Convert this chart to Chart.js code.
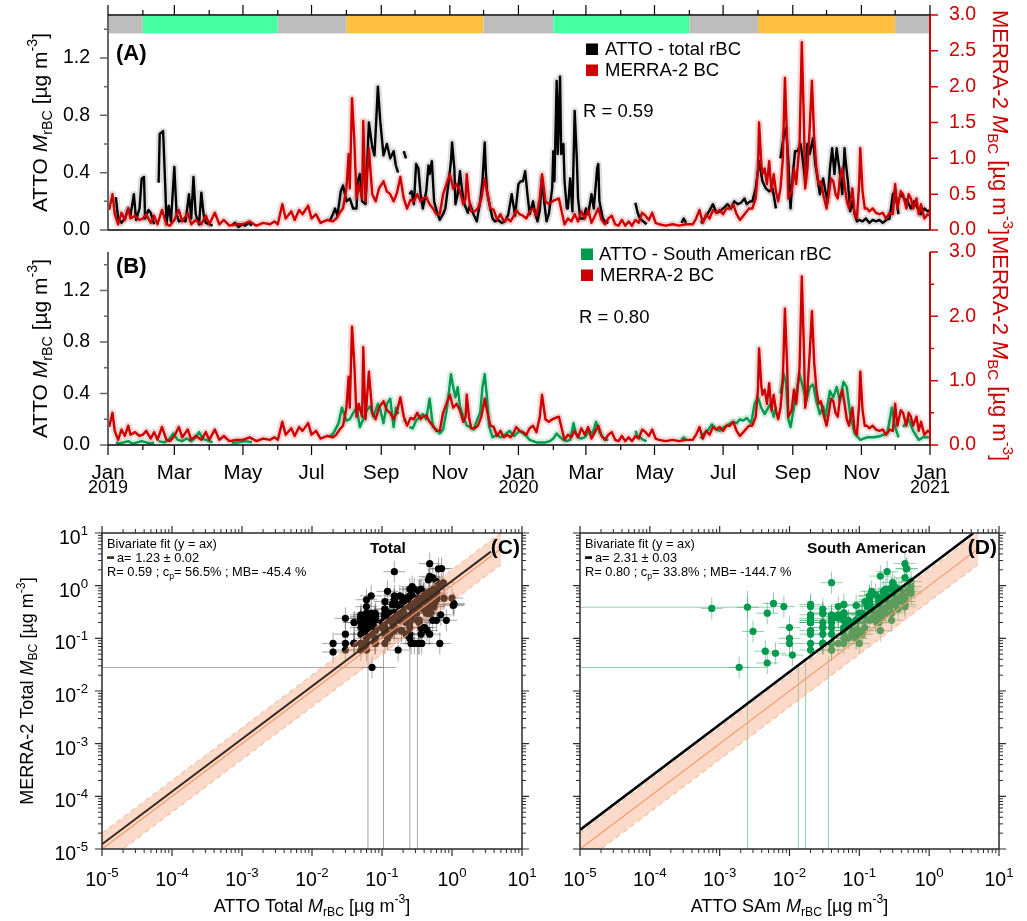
<!DOCTYPE html>
<html><head><meta charset="utf-8"><title>ATTO rBC vs MERRA-2 BC</title>
<script src="https://cdn.jsdelivr.net/npm/chart.js@4.4.1/dist/chart.umd.min.js"></script>
<style>
html,body{margin:0;padding:0;background:#fff;}
body{position:relative;width:1027px;height:921px;overflow:hidden;}
canvas{position:absolute;}
</style></head>
<body>
<canvas id="cA" width="1027" height="240" style="left:0;top:0;width:1027px;height:240px"></canvas>
<canvas id="cB" width="1027" height="272" style="left:0;top:228px;width:1027px;height:272px"></canvas>
<canvas id="cC" width="540" height="421" style="left:0;top:500px;width:540px;height:421px"></canvas>
<canvas id="cD" width="487" height="421" style="left:540px;top:500px;width:487px;height:421px"></canvas>
<script>
// ================= DATA =================
// x axis: days since 1 Jan 2019
const tickDays  = [0,31,59,90,120,151,181,212,243,273,304,334,365,396,425,456,486,517,547,578,609,639,670,700,731];
const tickMonth = ['Jan','Feb','Mar','Apr','May','Jun','Jul','Aug','Sep','Oct','Nov','Dec','Jan','Feb','Mar','Apr','May','Jun','Jul','Aug','Sep','Oct','Nov','Dec','Jan'];
const tickYear  = {0:'2019',365:'2020',731:'2021'};
const leftTicks = [0,0.4,0.8,1.2];
const leftMinor = [0.2,0.6,1.0,1.4];
const rightTicksA = [0,0.5,1,1.5,2,2.5,3];
const rightTicksB = [0,1,2,3];
const rightMinorB = [0.5,1.5,2.5];

// season bar (wet / dry / transition)
const seasonStart = [0,31,151,212,334,396,517,578,700];
const seasonEnd   = [31,151,212,334,396,517,578,700,731];
const seasonType  = ['trans','wet','trans','dry','trans','wet','trans','dry','trans'];

// MERRA-2 BC [ug m-3]  [day, value]
const merraBC = [[1,0.28],[4,0.50],[6,0.22],[9,0.08],[12,0.24],[15,0.14],[18,0.30],[20,0.16],[24,0.20],[28,0.14],[31,0.16],[34,0.22],[38,0.10],[41,0.20],[44,0.08],[48,0.28],[52,0.08],[55,0.06],[59,0.14],[63,0.28],[66,0.12],[71,0.24],[74,0.08],[78,0.14],[83,0.08],[87,0.20],[90,0.08],[95,0.24],[99,0.08],[103,0.14],[108,0.06],[114,0.08],[120,0.08],[126,0.12],[132,0.06],[138,0.10],[144,0.08],[148,0.12],[151,0.08],[155,0.36],[158,0.16],[163,0.26],[166,0.14],[170,0.28],[173,0.22],[178,0.34],[181,0.16],[185,0.22],[189,0.10],[195,0.14],[200,0.12],[203,0.16],[206,0.24],[209,0.30],[212,0.58],[214,1.06],[215,0.58],[217,1.84],[219,1.28],[221,0.44],[223,0.64],[226,0.44],[227,1.52],[229,0.40],[232,1.14],[235,0.50],[238,0.40],[241,0.58],[245,0.68],[248,0.54],[251,0.50],[254,0.40],[257,0.52],[260,0.74],[263,0.44],[266,0.30],[269,0.42],[272,0.40],[275,0.50],[278,0.40],[280,0.44],[283,0.46],[286,0.36],[289,0.30],[292,0.22],[295,0.22],[298,0.50],[301,0.64],[304,0.78],[307,0.58],[310,0.64],[313,0.54],[316,0.36],[318,0.44],[319,0.78],[321,0.44],[323,0.26],[326,0.26],[329,0.30],[332,0.44],[335,0.72],[337,0.54],[340,0.30],[343,0.28],[346,0.14],[349,0.22],[352,0.12],[355,0.16],[358,0.12],[361,0.20],[363,0.28],[366,0.22],[369,0.20],[372,0.16],[375,0.26],[378,0.30],[381,0.20],[384,0.44],[386,0.78],[389,0.40],[392,0.36],[395,0.40],[398,0.42],[401,0.44],[404,0.22],[406,0.08],[409,0.16],[412,0.12],[415,0.22],[418,0.12],[421,0.26],[424,0.16],[427,0.28],[430,0.10],[433,0.20],[436,0.30],[439,0.14],[442,0.08],[445,0.16],[448,0.20],[451,0.08],[454,0.06],[457,0.14],[460,0.06],[463,0.12],[466,0.06],[469,0.14],[472,0.10],[475,0.24],[478,0.20],[481,0.14],[484,0.24],[487,0.10],[490,0.08],[496,0.06],[502,0.08],[508,0.06],[514,0.08],[520,0.08],[523,0.16],[526,0.28],[529,0.10],[532,0.22],[535,0.16],[538,0.28],[541,0.24],[544,0.28],[547,0.22],[550,0.30],[553,0.30],[556,0.36],[559,0.22],[562,0.14],[565,0.20],[568,0.26],[570,0.30],[573,0.30],[576,0.44],[578,0.86],[579,1.50],[581,0.92],[582,0.78],[584,0.86],[586,0.64],[588,0.96],[590,0.54],[592,0.78],[594,0.54],[596,0.40],[598,0.58],[600,0.96],[602,2.12],[604,1.20],[605,0.44],[608,0.54],[610,0.86],[612,0.64],[615,1.20],[617,2.62],[619,1.42],[620,0.58],[622,0.86],[624,1.42],[626,2.08],[628,1.28],[630,0.86],[632,0.64],[634,0.68],[636,0.50],[639,0.30],[641,0.50],[643,0.72],[645,0.68],[647,0.50],[649,0.44],[651,0.74],[653,0.86],[655,0.64],[657,0.40],[659,0.30],[662,0.58],[664,0.22],[666,0.16],[668,0.64],[669,1.14],[671,0.54],[673,0.30],[675,0.30],[677,0.26],[680,0.30],[683,0.24],[686,0.22],[689,0.24],[692,0.16],[695,0.24],[698,0.22],[700,0.64],[702,0.30],[705,0.54],[707,0.50],[710,0.30],[712,0.50],[714,0.44],[716,0.30],[719,0.44],[721,0.22],[723,0.36],[726,0.16],[729,0.22],[731,0.20]];

// ATTO total rBC [ug m-3]  [day, value]  (null = no data)
const attoTotal = [[7,0.23],[9,0.08],[12,0.05],[15,0.08],[18,0.15],[20,0.10],[23,0.25],[25,0.07],[28,0.15],[30,0.36],[32,0.37],[33,0.08],[36,0.14],[38,0.12],[41,0.04],[43,null],[45,0.33],[46,0.67],[49,0.69],[51,0.29],[52,0.04],[54,0.17],[56,0.06],[59,0.44],[61,0.11],[63,0.06],[66,0.07],[69,0.06],[72,0.25],[74,0.08],[76,0.37],[78,0.11],[81,0.04],[83,0.26],[85,0.11],[87,0.05],[90,0.04],[93,0.03],[95,null],[110,0.03],[113,0.05],[116,0.02],[119,0.04],[122,0.03],[125,0.05],[128,0.03],[130,null],[197,0.06],[200,0.11],[202,0.15],[204,0.10],[207,0.27],[209,0.31],[212,0.20],[215,0.22],[218,0.15],[221,0.15],[222,0.34],[224,0.39],[226,0.20],[229,0.18],[232,0.75],[235,0.58],[237,0.52],[240,1.00],[242,0.77],[245,0.52],[248,0.60],[251,0.50],[254,0.55],[256,0.45],[258,0.40],[260,null],[263,0.55],[265,0.50],[266,null],[268,0.25],[270,0.27],[272,0.18],[274,0.46],[276,0.43],[278,0.25],[280,0.15],[283,0.27],[285,0.45],[286,0.39],[288,0.48],[290,0.20],[292,0.14],[295,0.07],[298,0.11],[300,0.15],[303,0.34],[305,0.48],[306,0.61],[308,0.43],[309,0.18],[311,0.25],[313,0.41],[315,0.27],[317,0.18],[320,0.12],[322,0.18],[325,0.11],[328,0.06],[331,0.20],[333,0.34],[335,0.61],[336,0.41],[337,0.27],[340,0.15],[342,0.08],[344,0.06],[347,0.07],[350,0.05],[353,0.06],[356,0.11],[359,0.25],[362,0.10],[365,0.32],[367,0.34],[369,0.34],[371,0.41],[373,0.25],[375,0.11],[378,0.20],[380,0.11],[382,0.06],[384,0.14],[386,0.36],[388,0.19],[390,0.06],[392,0.11],[395,0.29],[396,0.55],[397,0.34],[399,1.04],[400,0.53],[402,1.07],[403,0.53],[405,0.60],[406,0.34],[408,0.15],[409,0.15],[411,0.36],[413,0.13],[415,0.83],[417,0.48],[418,0.22],[420,0.08],[423,0.08],[425,0.15],[427,0.11],[430,0.25],[432,0.15],[435,0.43],[436,0.46],[437,0.20],[440,0.08],[442,0.06],[445,0.05],[447,null],[469,0.19],[471,0.12],[473,0.08],[476,0.06],[479,0.04],[481,null],[510,0.05],[512,0.08],[514,0.05],[516,null],[527,0.05],[529,0.06],[533,0.11],[538,0.18],[541,0.12],[544,0.13],[547,0.15],[551,0.18],[554,0.15],[557,0.20],[560,0.18],[563,0.19],[566,0.22],[568,0.18],[571,0.20],[573,0.20],[576,0.29],[579,0.48],[582,0.34],[585,0.29],[588,0.27],[591,0.29],[594,0.15],[596,null],[598,0.50],[601,0.66],[603,0.71],[605,0.48],[607,0.15],[609,0.39],[611,0.55],[613,0.55],[616,0.60],[618,0.48],[620,0.34],[622,0.60],[624,0.53],[627,0.64],[629,0.46],[631,0.36],[633,0.25],[636,0.36],[638,0.27],[640,0.20],[642,0.43],[644,0.57],[646,0.39],[648,0.57],[651,0.39],[653,0.25],[655,0.57],[656,0.48],[658,0.34],[660,0.13],[662,0.20],[664,0.11],[666,0.06],[668,0.07],[671,0.06],[674,0.08],[677,0.05],[680,0.07],[683,0.06],[686,0.07],[689,0.05],[692,0.07],[695,0.08],[698,0.25],[700,0.27],[703,0.11],[704,null],[705,0.25],[708,0.22],[711,0.20],[714,0.15],[717,0.20],[720,0.15],[723,0.11],[726,0.15],[729,0.13],[731,0.14]];

// ATTO South American rBC [ug m-3]  [day, value]
const attoSAm = [[7,0.02],[10,0.01],[14,0.02],[18,0.03],[22,0.01],[26,0.02],[30,0.03],[34,0.02],[38,0.01],[41,0.02],[43,null],[45,0.03],[50,0.02],[54,0.04],[58,0.09],[62,0.04],[66,0.03],[70,0.05],[74,0.03],[78,0.06],[81,0.10],[84,0.05],[87,0.04],[90,0.03],[93,0.02],[95,null],[110,0.02],[116,0.02],[122,0.03],[128,0.02],[130,null],[197,0.06],[201,0.10],[205,0.17],[208,0.29],[212,0.19],[215,0.20],[218,0.25],[221,0.29],[224,0.14],[227,0.20],[230,0.27],[233,0.30],[236,0.22],[240,0.32],[242,0.28],[245,0.17],[248,0.32],[251,0.36],[254,0.14],[256,0.29],[258,0.24],[260,null],[263,0.20],[265,0.18],[266,null],[268,0.14],[271,0.13],[274,0.19],[277,0.22],[280,0.24],[283,0.20],[286,0.36],[289,0.14],[292,0.12],[295,0.09],[298,0.12],[301,0.26],[303,0.40],[305,0.55],[307,0.45],[309,0.37],[311,0.45],[313,0.30],[316,0.22],[319,0.15],[322,0.14],[325,0.12],[328,0.19],[331,0.25],[333,0.45],[335,0.55],[337,0.37],[339,0.14],[342,0.06],[346,0.08],[349,0.06],[353,0.08],[357,0.11],[361,0.07],[366,0.11],[369,0.09],[372,0.07],[375,0.04],[378,0.03],[381,0.02],[385,0.02],[389,0.02],[393,0.03],[396,0.05],[399,0.09],[402,0.06],[405,0.04],[408,0.03],[411,0.04],[414,0.17],[416,0.09],[418,0.06],[421,0.05],[424,0.06],[428,0.11],[431,0.09],[434,0.18],[437,0.10],[440,0.06],[443,0.04],[445,0.04],[447,null],[469,0.11],[471,0.07],[473,0.06],[476,0.04],[479,0.03],[481,null],[510,0.04],[512,0.06],[514,0.04],[516,null],[527,0.05],[530,0.09],[534,0.12],[537,0.16],[541,0.12],[544,0.11],[548,0.14],[552,0.16],[556,0.18],[559,0.17],[562,0.20],[565,0.19],[568,0.21],[572,0.17],[575,0.32],[578,0.37],[581,0.29],[584,0.24],[589,0.32],[592,0.22],[594,0.30],[596,null],[598,0.40],[601,0.55],[603,0.48],[605,0.20],[607,0.14],[610,0.29],[612,0.40],[615,0.55],[618,0.45],[621,0.34],[624,0.45],[627,0.47],[630,0.34],[633,0.24],[636,0.30],[638,0.22],[642,0.42],[645,0.37],[648,0.45],[651,0.34],[654,0.49],[657,0.45],[660,0.24],[664,0.09],[669,0.04],[675,0.06],[681,0.06],[687,0.07],[693,0.09],[697,0.29],[700,0.14],[703,0.06],[704,null],[707,0.14],[712,0.20],[716,0.11],[721,0.04],[725,0.06],[730,0.06]];

const extraTotal = [[0.072,0.028],[1.05,0.46],[0.02,0.055]];
const extraSAm = [[0.00077,0.37],[0.0025,0.39],[0.0048,0.30],[0.003,0.135],[0.0045,0.057],[0.0048,0.034],[0.0019,0.028],[0.0059,0.46],[0.0083,0.40],[0.0063,0.052],[0.011,0.048]];
// long error bars reaching the axes: [x1,y1,x2,y2]
const errTotal = [[1e-5,0.028,0.16,0.028],[0.063,1e-5,0.063,0.05],[0.105,1e-5,0.105,0.06],[0.25,1e-5,0.25,0.07],[0.32,1e-5,0.32,0.08]];
const errSAm = [[1e-5,0.39,0.006,0.39],[1e-5,0.028,0.0047,0.028],[0.0025,1e-5,0.0025,0.79],[0.0134,1e-5,0.0134,0.03],[0.017,1e-5,0.017,0.035],[0.036,1e-5,0.036,0.045]];
// bivariate fits y = a x
const fitSlopeTotal = 1.23, fitEndTotal = 3.6;
const fitSlopeSAm = 2.31, fitEndSAm = 4.33;
const refLineX = [1e-5, 5];
const logDecades = [-5,-4,-3,-2,-1,0,1];

// ================= HELPERS =================
const FONT = "'Liberation Sans', Arial, Helvetica, sans-serif";
Chart.defaults.font.family = FONT;
Chart.defaults.color = '#000';
const RED = '#CC0000', GREEN = '#009A4E';
const SEASON_COLOR = {trans:'#BDBDBD', wet:'#45FFA0', dry:'#FFBF40'};

function fontFor(p, size){
  const s = (p.s==='sub'||p.s==='sup') ? size*0.68 : size;
  return (p.i?'italic ':'') + (p.b?'bold ':'') + s.toFixed(2) + 'px ' + FONT;
}
function drawRich(ctx, parts, x, y, o){
  const size=o.size, rot=o.rot||0, align=o.align||'left';
  ctx.save(); ctx.translate(x,y); ctx.rotate(rot);
  ctx.fillStyle = o.color||'#000'; ctx.textBaseline='alphabetic'; ctx.textAlign='left';
  let w=0; parts.forEach(p=>{ctx.font=fontFor(p,size); w+=ctx.measureText(p.t).width;});
  let cx = align==='center' ? -w/2 : (align==='right' ? -w : 0);
  parts.forEach(p=>{ ctx.font=fontFor(p,size);
    let dy=0; if(p.s==='sub') dy=size*0.24; if(p.s==='sup') dy=-size*0.46;
    ctx.fillText(p.t,cx,dy); cx+=ctx.measureText(p.t).width; });
  ctx.restore();
}
function seg(ctx,x1,y1,x2,y2,color,lw){
  ctx.save(); ctx.strokeStyle=color; ctx.lineWidth=lw; ctx.beginPath(); ctx.moveTo(x1,y1); ctx.lineTo(x2,y2); ctx.stroke(); ctx.restore();
}
function ticksAt(ctx, scale, vals, side, len, a, color, lw){
  ctx.save(); ctx.strokeStyle=color; ctx.lineWidth=lw; ctx.beginPath();
  vals.forEach(v=>{ const p=scale.getPixelForValue(v);
    if(side==='bottom'){ctx.moveTo(p,a.bottom);ctx.lineTo(p,a.bottom+len);}
    else if(side==='top'){ctx.moveTo(p,a.top);ctx.lineTo(p,a.top-len);}
    else if(side==='left'){ctx.moveTo(a.left,p);ctx.lineTo(a.left-len,p);}
    else {ctx.moveTo(a.right,p);ctx.lineTo(a.right+len,p);} });
  ctx.stroke(); ctx.restore();
}
function text(ctx,t,x,y,size,o){
  o=o||{}; ctx.save(); ctx.font=(o.bold?'bold ':'')+size+'px '+FONT; ctx.fillStyle=o.color||'#000';
  ctx.textAlign=o.align||'left'; ctx.textBaseline='alphabetic'; ctx.fillText(t,x,y); ctx.restore();
}
function fixBox(w,h){
  return s=>{ if(w!=null) s.width=w; if(h!=null) s.height=h;
    s.paddingTop=0; s.paddingBottom=0; s.paddingLeft=0; s.paddingRight=0; };
}
const toXY = arr => arr.map(([x,y])=>({x,y}));
const majorDays = tickDays.filter((d,i)=>i%2===0);
const minorDays = tickDays.filter((d,i)=>i%2===1);

const leftTitle  = [{t:'ATTO '},{t:'M',i:1},{t:'rBC',s:'sub'},{t:' [µg m'},{t:'-3',s:'sup'},{t:']'}];
const rightTitle = [{t:'MERRA-2 '},{t:'M',i:1},{t:'BC',s:'sub'},{t:' [µg m'},{t:'-3',s:'sup'},{t:']'}];

function lineDS(data, color, width, axis, order){
  return {data:toXY(data), borderColor:color, borderWidth:width, pointRadius:0, yAxisID:axis,
          spanGaps:false, tension:0, order, fill:false, borderJoinStyle:'round'};
}
function tsOptions(padTop, xH, rTicks){
  return {
    responsive:false, animation:false, devicePixelRatio:1, events:[],
    layout:{padding:{top:padTop,left:0,right:0,bottom:0}},
    plugins:{legend:{display:false}, tooltip:{enabled:false}},
    scales:{
      x:{type:'linear', min:0, max:731, position:'bottom', grid:{display:false}, border:{display:false},
         ticks:{display:false}, afterFit:fixBox(null,xH)},
      y:{type:'linear', position:'left', min:0, max:1.5, grid:{display:false}, border:{display:false},
         ticks:{font:{size:19.5}, color:'#000', padding:10, callback:v=>v.toFixed(1)},
         afterBuildTicks:s=>{s.ticks=leftTicks.map(v=>({value:v}));}, afterFit:fixBox(108,null)},
      y2:{type:'linear', position:'right', min:0, max:3, grid:{display:false}, border:{display:false},
         ticks:{font:{size:19.5}, color:RED, padding:11, callback:v=>v.toFixed(1)},
         afterBuildTicks:s=>{s.ticks=rTicks.map(v=>({value:v}));}, afterFit:fixBox(97,null)}
    }
  };
}

// ================= PANEL A =================
const plugA = {id:'plugA',
  afterDatasetsDraw(chart){
    const ctx=chart.ctx, a=chart.chartArea, x=chart.scales.x;
    seasonStart.forEach((s,i)=>{ const x1=x.getPixelForValue(s), x2=x.getPixelForValue(seasonEnd[i]);
      ctx.fillStyle=SEASON_COLOR[seasonType[i]]; ctx.fillRect(x1,a.top+1,x2-x1,17); });
    seg(ctx,a.left,a.top+18.5,a.right,a.top+18.5,'#E2E2E2',1);
  },
  afterDraw(chart){
    const ctx=chart.ctx, a=chart.chartArea, x=chart.scales.x, y=chart.scales.y, y2=chart.scales.y2;
    seg(ctx,a.left,a.top,a.left,a.bottom,'#666',2);
    seg(ctx,a.left,a.bottom,a.right,a.bottom,'#000',1.5);
    seg(ctx,a.left,a.top,a.right,a.top,'#000',1.5);
    seg(ctx,a.right,a.top,a.right,a.bottom,RED,2);
    ticksAt(ctx,y,leftTicks,'left',8,a,'#666',1.5);
    ticksAt(ctx,y,leftMinor,'left',4,a,'#666',1.5);
    ticksAt(ctx,y2,rightTicksA,'right',8,a,RED,1.5);
    ticksAt(ctx,x,majorDays,'top',10,a,'#000',1.2);
    ticksAt(ctx,x,minorDays,'top',5,a,'#000',1.2);
    drawRich(ctx,leftTitle,47,(a.top+a.bottom)/2,{size:21,rot:-Math.PI/2,align:'center'});
    drawRich(ctx,rightTitle,993,(a.top+a.bottom)/2,{size:22,rot:Math.PI/2,align:'center',color:RED});
    text(ctx,'(A)',116,60,22,{bold:true});
    ctx.fillStyle='#000'; ctx.fillRect(586,43.5,12,11.5);
    text(ctx,'ATTO - total rBC',605,55,18.5);
    ctx.fillStyle=RED; ctx.fillRect(586,64.5,12,11.5);
    text(ctx,'MERRA-2 BC',605,75.7,18.5);
    text(ctx,'R = 0.59',583,117.3,18.5);
  }};
new Chart(document.getElementById('cA'),{
  type:'line',
  data:{datasets:[
    lineDS(merraBC,'rgba(204,0,0,0.16)',7,'y2',4),
    lineDS(attoTotal,'rgba(0,0,0,0.13)',7,'y',3),
    lineDS(attoTotal,'#000',2.4,'y',2),
    lineDS(merraBC,RED,2.4,'y2',1)
  ]},
  options:tsOptions(15,10,rightTicksA),
  plugins:[plugA]
});

// ================= PANEL B =================
const plugB = {id:'plugB',
  afterDraw(chart){
    const ctx=chart.ctx, a=chart.chartArea, x=chart.scales.x, y=chart.scales.y, y2=chart.scales.y2;
    seg(ctx,a.left,a.top,a.left,a.bottom,'#666',2);
    seg(ctx,a.left,a.bottom,a.right,a.bottom,'#000',1.5);
    seg(ctx,a.right,a.top,a.right,a.bottom,RED,2);
    ticksAt(ctx,y,leftTicks,'left',8,a,'#666',1.5);
    ticksAt(ctx,y,leftMinor,'left',4,a,'#666',1.5);
    ticksAt(ctx,y2,rightTicksB,'right',8,a,RED,1.5);
    ticksAt(ctx,y2,rightMinorB,'right',4,a,RED,1.5);
    ticksAt(ctx,x,majorDays,'bottom',10,a,'#000',1.2);
    ticksAt(ctx,x,minorDays,'bottom',5,a,'#000',1.2);
    tickDays.forEach((d,i)=>{ if(i%2) return; const px=x.getPixelForValue(d);
      text(ctx,tickMonth[i],px,a.bottom+34.3,20.5,{align:'center'});
      if(tickYear[d]) text(ctx,tickYear[d],px,a.bottom+48.3,18,{align:'center'}); });
    drawRich(ctx,leftTitle,47,(a.top+a.bottom)/2,{size:21,rot:-Math.PI/2,align:'center'});
    drawRich(ctx,rightTitle,993,(a.top+a.bottom)/2,{size:22,rot:Math.PI/2,align:'center',color:RED});
    text(ctx,'(B)',116,45,22,{bold:true});
    ctx.fillStyle=GREEN; ctx.fillRect(581,20.5,12,11.5);
    text(ctx,'ATTO - South American rBC',599,32,18.5);
    ctx.fillStyle=RED; ctx.fillRect(581,41.5,12,11.5);
    text(ctx,'MERRA-2 BC',600,52.7,18.5);
    text(ctx,'R = 0.80',579,95.3,18.5);
  }};
new Chart(document.getElementById('cB'),{
  type:'line',
  data:{datasets:[
    lineDS(merraBC,'rgba(204,0,0,0.16)',7,'y2',4),
    lineDS(attoSAm,'rgba(0,154,78,0.16)',7,'y',3),
    lineDS(attoSAm,GREEN,2.4,'y',2),
    lineDS(merraBC,RED,2.4,'y2',1)
  ]},
  options:tsOptions(24,55,rightTicksB),
  plugins:[plugB]
});

// ================= PANELS C / D =================
function nearestMerra(day){
  let best=null, bd=1e9;
  merraBC.forEach(([d,v])=>{ if(v==null) return; const dd=Math.abs(d-day); if(dd<bd){bd=dd;best=v;} });
  return best;
}
function pairsFrom(series, extra){
  const pts = series.filter(p=>p[1]!=null).map(([d,v])=>({x:v, y:nearestMerra(d)}));
  return pts.concat(toXY(extra));
}
function errSegments(list){
  const out=[]; list.forEach(([x1,y1,x2,y2])=>{ out.push({x:x1,y:y1},{x:x2,y:y2},{x:x2,y:null}); }); return out;
}
function logFramePlugin(id, withLeft, info){
  return {id, afterDraw(chart){
    const ctx=chart.ctx, a=chart.chartArea, xs=chart.scales.x, ys=chart.scales.y;
    const col='#2a2a2a';
    seg(ctx,a.left,a.top,a.right,a.top,col,1.5); seg(ctx,a.left,a.bottom,a.right,a.bottom,col,1.5);
    seg(ctx,a.left,a.top,a.left,a.bottom,col,1.5); seg(ctx,a.right,a.top,a.right,a.bottom,col,1.5);
    const maj = logDecades.map(k=>Math.pow(10,k));
    const mino=[]; logDecades.slice(0,-1).forEach(k=>{ for(let m=2;m<=9;m++) mino.push(m*Math.pow(10,k)); });
    ['bottom','top'].forEach(s=>{ ticksAt(ctx,xs,maj,s,7,a,col,1.2); ticksAt(ctx,xs,mino,s,4,a,col,1); });
    ['left','right'].forEach(s=>{ ticksAt(ctx,ys,maj,s,7,a,col,1.2); ticksAt(ctx,ys,mino,s,4,a,col,1); });
    logDecades.forEach(k=>{
      drawRich(ctx,[{t:'10'},{t:String(k),s:'sup'}],xs.getPixelForValue(Math.pow(10,k)),a.bottom+37,{size:19.5,align:'center'});
      if(withLeft) drawRich(ctx,[{t:'10'},{t:String(k),s:'sup'}],a.left-14,ys.getPixelForValue(Math.pow(10,k))+11,{size:19.5,align:'right'});
    });
    if(withLeft) drawRich(ctx,[{t:'MERRA-2 Total '},{t:'M',i:1},{t:'BC',s:'sub'},{t:' [µg m'},{t:'-3',s:'sup'},{t:']'}],33,(a.top+a.bottom)/2,{size:18,rot:-Math.PI/2,align:'center'});
    drawRich(ctx,info.xTitle,(a.left+a.right)/2,411.7,{size:18,align:'center'});
    const tx=a.left+5;
    text(ctx,'Bivariate fit (y = ax)',tx,48,12.8);
    ctx.fillStyle=info.fitColor; ctx.fillRect(tx,56.3,7,2.6);
    text(ctx,info.aText,tx+10,61.7,12.8);
    drawRich(ctx,[{t:info.r},{t:'p',s:'sub'},{t:info.rest}],tx,75.5,{size:12.8});
    text(ctx,info.label,info.labelX,53.3,15.5,{bold:true});
    text(ctx,info.panel,a.right-2,53.5,21,{bold:true,align:'right'});
  }};
}
function scatterChart(id, pts, errs, ptColor, errColor, slope, fitEnd, fitColor, fitW, padRight, yW, plug){
  return new Chart(document.getElementById(id),{
    type:'scatter',
    data:{datasets:[
      {data:[{x:refLineX[0],y:slope*refLineX[0]},{x:fitEnd,y:slope*fitEnd}], showLine:true, borderColor:fitColor, borderWidth:fitW, pointRadius:0, order:0},
      {data:refLineX.map(v=>({x:v,y:v})), showLine:true, borderColor:'#F59868', borderWidth:1.2, pointRadius:0, order:1},
      {data:refLineX.map(v=>({x:v,y:2*v})), showLine:true, borderColor:'#F6AE8A', borderWidth:1, borderDash:[5,4], pointRadius:0, fill:'+1', backgroundColor:'rgba(246,158,116,0.38)', order:2},
      {data:refLineX.map(v=>({x:v,y:v/2})), showLine:true, borderColor:'#F6AE8A', borderWidth:1, borderDash:[5,4], pointRadius:0, order:3},
      {data:pts, pointRadius:3.6, pointBackgroundColor:ptColor, pointBorderWidth:0, order:4},
      {data:pts, pointStyle:'cross', pointRadius:11, pointBorderColor:errColor, pointBorderWidth:1, pointBackgroundColor:'transparent', order:5},
      {data:errSegments(errs), showLine:true, spanGaps:false, borderColor:errColor, borderWidth:1, pointRadius:0, order:6}
    ]},
    options:{
      responsive:false, animation:false, devicePixelRatio:1, events:[],
      layout:{padding:{top:33,right:padRight,left:0,bottom:0}},
      plugins:{legend:{display:false}, tooltip:{enabled:false}},
      scales:{
        x:{type:'logarithmic', min:1e-5, max:10, position:'bottom', grid:{display:false}, border:{display:false}, ticks:{display:false}, afterFit:fixBox(null,72)},
        y:{type:'logarithmic', min:1e-5, max:10, position:'left', grid:{display:false}, border:{display:false}, ticks:{display:false}, afterFit:fixBox(yW,null)}
      }
    },
    plugins:[plug]
  });
}
scatterChart('cC', pairsFrom(attoTotal, extraTotal), errTotal, '#000', 'rgba(95,95,95,0.55)',
  fitSlopeTotal, fitEndTotal, '#3B2A20', 2, 18, 102,
  logFramePlugin('plugC', true, {xTitle:[{t:'ATTO Total '},{t:'M',i:1},{t:'rBC',s:'sub'},{t:' [µg m'},{t:'-3',s:'sup'},{t:']'}],
    fitColor:'#3B2A20', aText:'a= 1.23 ± 0.02', r:'R= 0.59 ; c', rest:'= 56.5% ; MB= -45.4 %', label:'Total', labelX:370, panel:'(C)'}));
scatterChart('cD', pairsFrom(attoSAm, extraSAm), errSAm, GREEN, 'rgba(60,170,105,0.55)',
  fitSlopeSAm, fitEndSAm, '#000', 2.6, 28, 40,
  logFramePlugin('plugD', false, {xTitle:[{t:'ATTO SAm '},{t:'M',i:1},{t:'rBC',s:'sub'},{t:' [µg m'},{t:'-3',s:'sup'},{t:']'}],
    fitColor:'#000', aText:'a= 2.31 ± 0.03', r:'R= 0.80 ; c', rest:'= 33.8% ; MB= -144.7 %', label:'South American', labelX:267, panel:'(D)'}));
</script>
</body></html>
